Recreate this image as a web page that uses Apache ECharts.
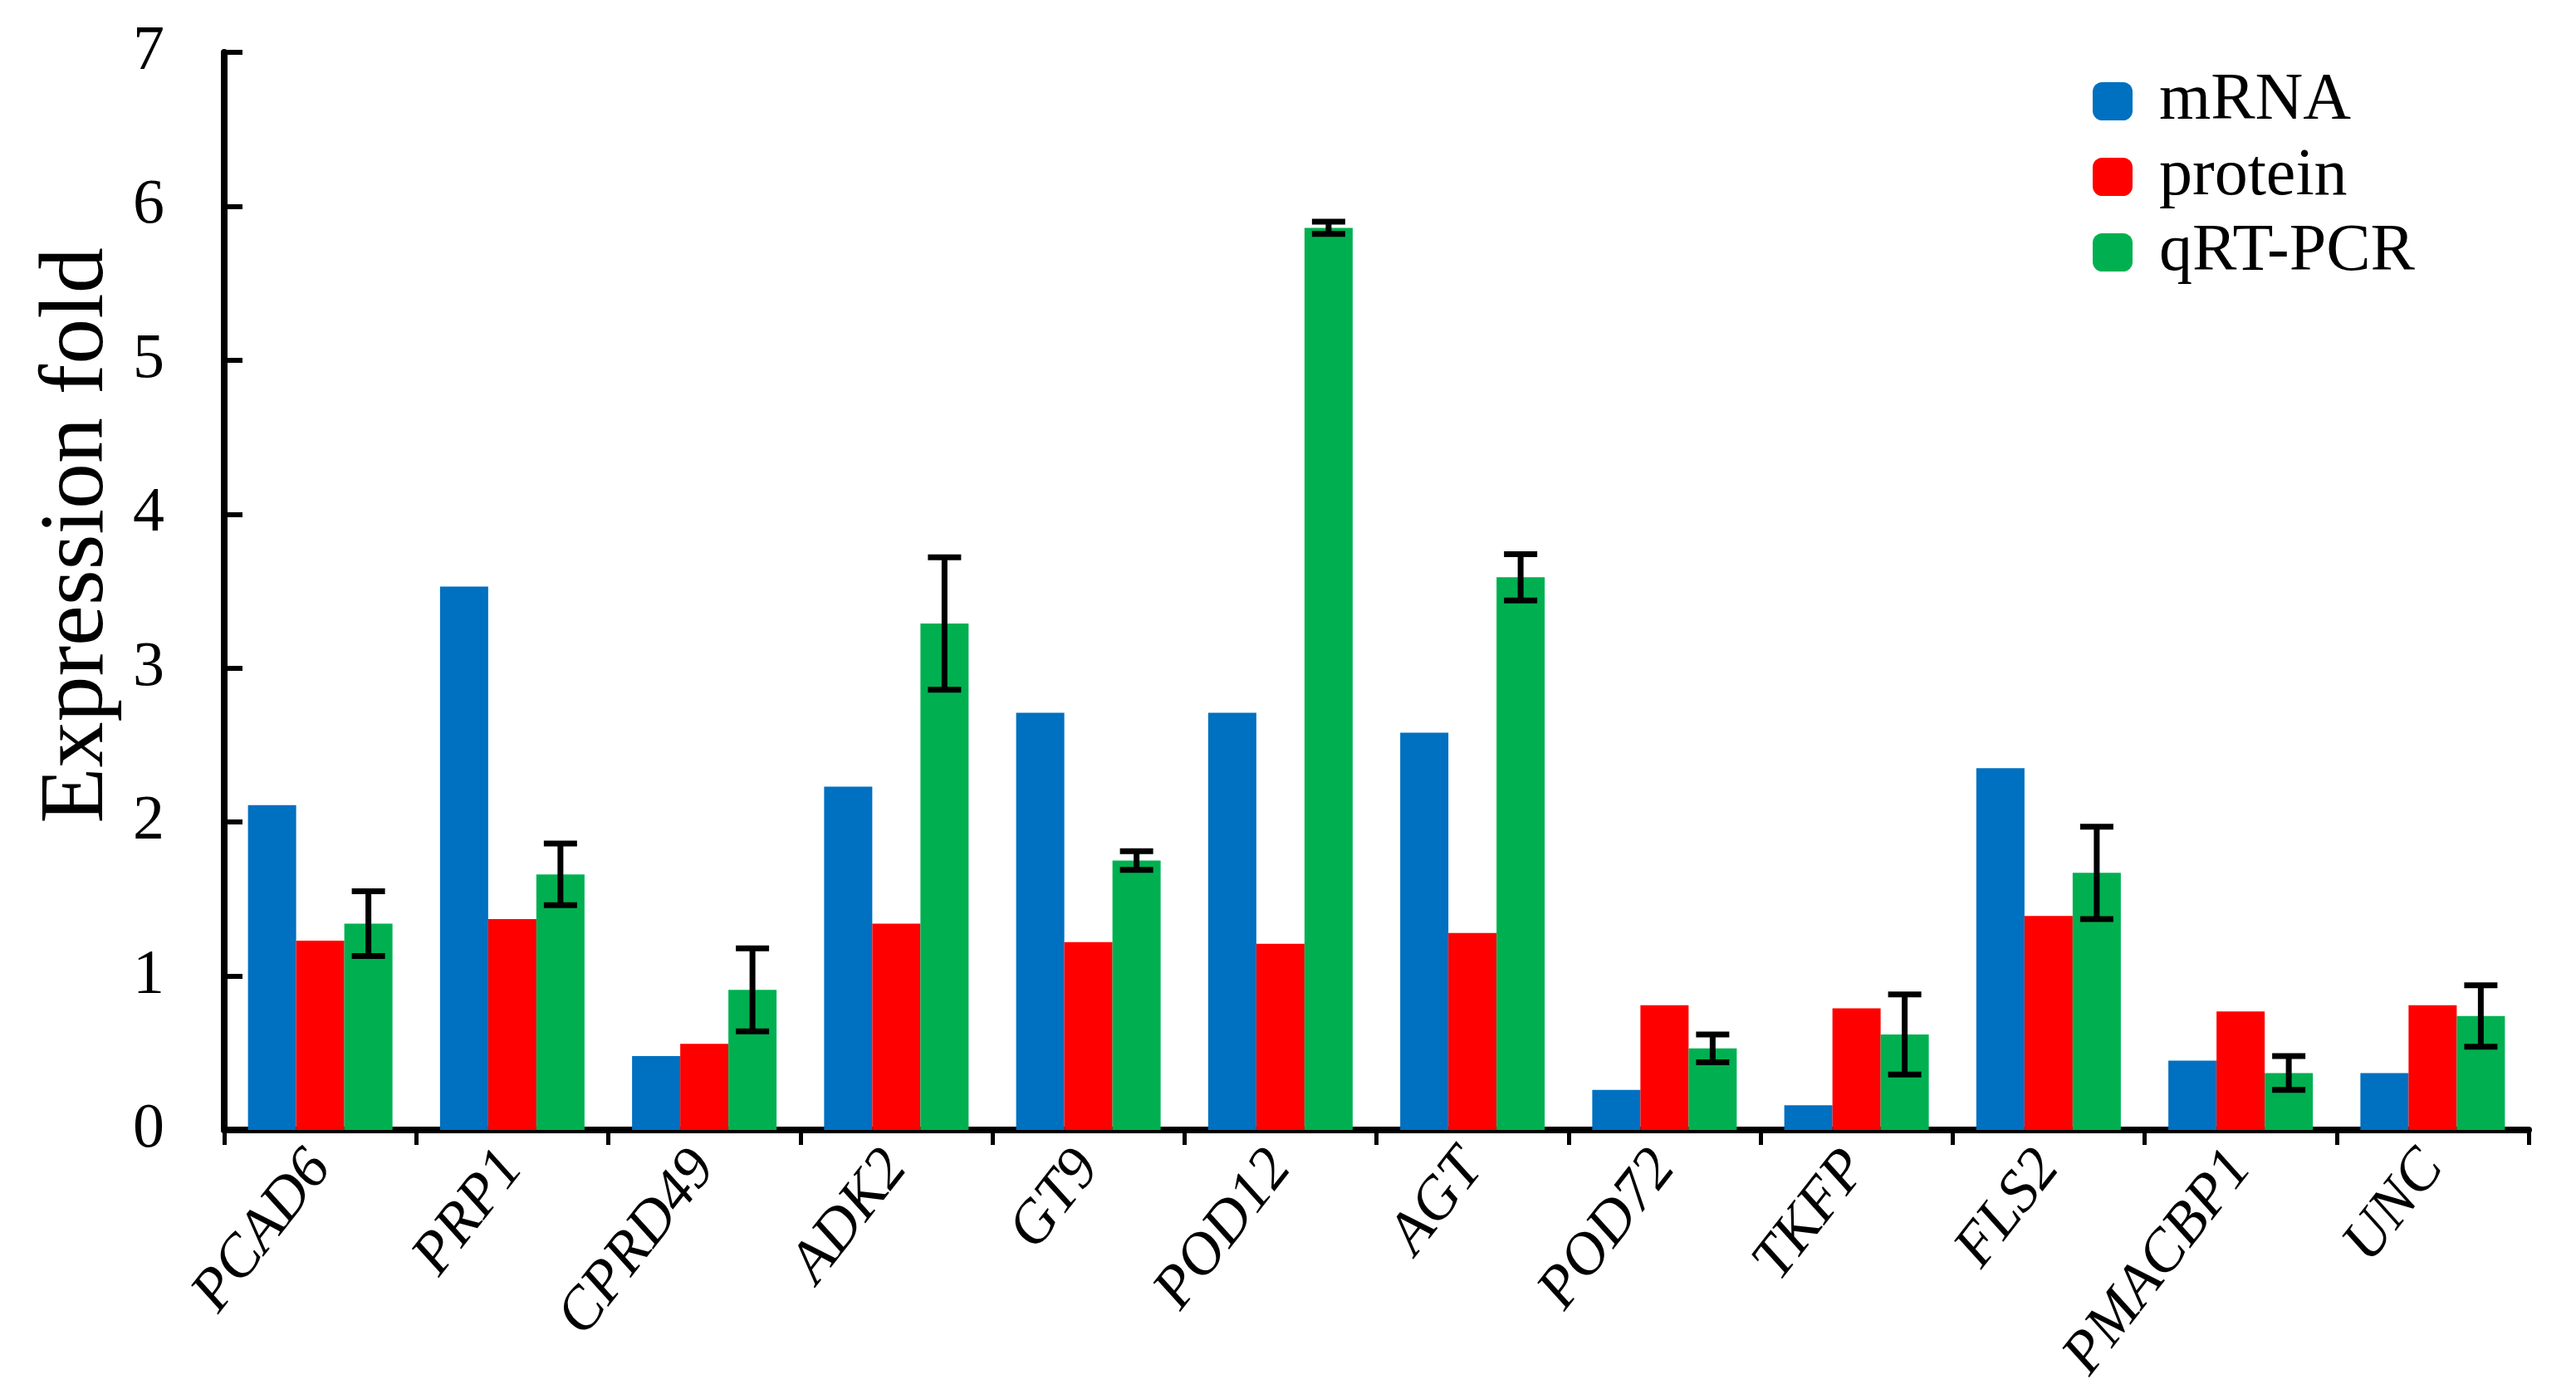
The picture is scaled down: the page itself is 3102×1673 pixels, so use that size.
<!DOCTYPE html>
<html>
<head>
<meta charset="utf-8">
<script src="https://cdn.jsdelivr.net/npm/echarts@6/dist/echarts.min.js"></script>
<style>
  html, body { margin: 0; padding: 0; background: #fff; }
  #chart { width: 3102px; height: 1673px; }
</style>
</head>
<body>
<div id="chart"></div>
<script>
const genes = ['PCAD6', 'PRP1', 'CPRD49', 'ADK2', 'GT9', 'POD12', 'AGT', 'POD72', 'TKFP', 'FLS2', 'PMACBP1', 'UNC']
const mrna = [2.11, 3.53, 0.48, 2.23, 2.71, 2.71, 2.58, 0.26, 0.16, 2.35, 0.45, 0.37]
const protein = [1.23, 1.37, 0.56, 1.34, 1.22, 1.21, 1.28, 0.81, 0.79, 1.39, 0.77, 0.81]
const qrtpcr = [1.34, 1.66, 0.91, 3.29, 1.75, 5.86, 3.59, 0.53, 0.62, 1.67, 0.37, 0.74]
const qrtErr = [0.21, 0.20, 0.27, 0.43, 0.06, 0.04, 0.15, 0.09, 0.26, 0.30, 0.11, 0.20]
const yTicks = [0, 1, 2, 3, 4, 5, 6, 7]

const font = 'Liberation Serif, Times New Roman, serif'
const barW = 58

const chart = echarts.init(document.getElementById('chart'))

chart.setOption({
  backgroundColor: '#fff',
  animation: false,
  grid: {
    left: 270,
    right: 57,
    top: 63,
    bottom: 312
  },
  legend: {
    orient: 'vertical',
    left: 2515,
    top: 77,
    icon: 'roundRect',
    itemWidth: 48,
    itemHeight: 46,
    itemGap: 11,
    data: ['mRNA', 'protein', 'qRT-PCR'],
    textStyle: {
      fontFamily: font,
      fontSize: 80,
      lineHeight: 46,
      color: '#000',
      padding: [0, 0, 0, 27]
    }
  },
  xAxis: {
    type: 'category',
    data: genes,
    axisLine: { lineStyle: { color: '#000', width: 8 } },
    axisTick: { show: true, length: 18, lineStyle: { color: '#000', width: 5 } },
    axisLabel: {
      rotate: 52,
      margin: 34,
      interval: 0,
      fontFamily: font,
      fontStyle: 'italic',
      fontSize: 72,
      color: '#000'
    }
  },
  yAxis: {
    type: 'value',
    min: yTicks[0],
    max: yTicks[yTicks.length - 1],
    interval: 1,
    name: 'Expression fold',
    nameLocation: 'middle',
    nameGap: 120,
    nameTextStyle: {
      fontFamily: font,
      fontSize: 110,
      color: '#000',
      padding: [0, 0, 0, 134]
    },
    axisLine: { show: true, lineStyle: { color: '#000', width: 8 } },
    axisTick: { show: true, inside: true, length: 22, lineStyle: { color: '#000', width: 6 } },
    splitLine: { show: false },
    axisLabel: {
      margin: 72,
      fontFamily: font,
      fontSize: 76,
      color: '#000'
    }
  },
  series: [
    {
      name: 'mRNA',
      type: 'bar',
      data: mrna,
      barWidth: barW,
      barGap: '0%',
      itemStyle: { color: '#0070C0' }
    },
    {
      name: 'protein',
      type: 'bar',
      data: protein,
      barWidth: barW,
      barGap: '0%',
      itemStyle: { color: '#FF0000' }
    },
    {
      name: 'qRT-PCR',
      type: 'bar',
      data: qrtpcr,
      barWidth: barW,
      barGap: '0%',
      itemStyle: { color: '#00B050' }
    },
    {
      // error bars on the qRT-PCR bars
      type: 'custom',
      z: 10,
      data: qrtpcr.map((v, i) => [i, v, qrtErr[i]]),
      renderItem: (params, api) => {
        const i = api.value(0)
        const v = api.value(1)
        const e = api.value(2)
        const top = api.coord([i, v + e])
        const bot = api.coord([i, v - e])
        const x = top[0] + barW
        const cap = 20
        const style = { stroke: '#000', lineWidth: 7 }
        return {
          type: 'group',
          children: [
            { type: 'line', shape: { x1: x, y1: top[1], x2: x, y2: bot[1] }, style },
            { type: 'line', shape: { x1: x - cap, y1: top[1], x2: x + cap, y2: top[1] }, style },
            { type: 'line', shape: { x1: x - cap, y1: bot[1], x2: x + cap, y2: bot[1] }, style }
          ]
        }
      }
    }
  ]
})
</script>
</body>
</html>
